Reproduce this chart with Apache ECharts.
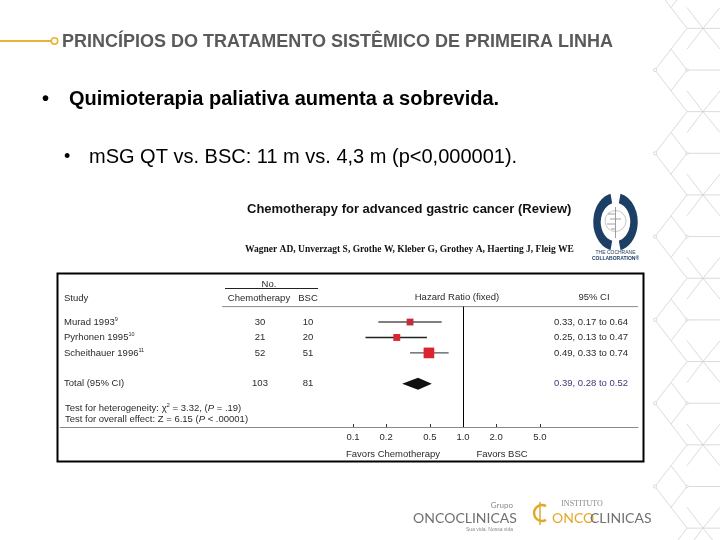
<!DOCTYPE html>
<html><head><meta charset="utf-8">
<script src="https://cdn.jsdelivr.net/npm/echarts@6/dist/echarts.min.js"></script>
<style>html,body{margin:0;padding:0;background:#fff}#c{width:720px;height:540px}</style>
</head><body><div id="c"></div>
<script>
// ---------- data ----------
const studies = ['Murad 1993', 'Pyrhonen 1995', 'Scheithauer 1996'];
const refs = ['9', '10', '11'];
const chemoN = [30, 21, 52];
const bscN = [10, 20, 51];
const hr = [0.33, 0.25, 0.49];
const ciLow = [0.17, 0.13, 0.33];
const ciHigh = [0.64, 0.47, 0.74];
const totalLabel = 'Total (95% CI)';
const totalChemo = [103];
const totalBsc = [81];
const totalHr = [0.39];
const totalLow = [0.28];
const totalHigh = [0.52];
const tickValues = [0.1, 0.2, 0.5, 1, 2, 5];

// ---------- layout ----------
const FONT = '"Liberation Sans", Arial, sans-serif';
const rowOf = i => i + 1;
const totalRow = studies.length + 2;
const yMax = 7.8;
const colStudy = 4, colChemo = 200, colBsc = 248, colCI = 494;
const sqColors = ['#c42d3a', '#d9262f', '#dc2430'];
const D2R = Math.PI / 180;
const TXT = '#2a2a2a';

const fmt = v => v.toFixed(2);
const ciText = (h, l, u) => fmt(h) + ', ' + fmt(l) + ' to ' + fmt(u);

const chart = echarts.init(document.getElementById('c'), null, {renderer: 'canvas'});

const labelBase = {fontFamily: FONT, fontSize: 9.5, color: TXT};

// hexagon decoration
const deco = [];
const P = 83.3;
const gray = '#d2d2d2';
function ln(x1, y1, x2, y2) {
  deco.push({type: 'line', silent: true, shape: {x1, y1, x2, y2}, style: {stroke: gray, lineWidth: 0.8}});
}
for (let k = -1; k < 8; k++) {
  const y0 = 70 + k * P;
  ln(655, y0, 687, y0 - P / 2);
  ln(655, y0, 687, y0 + P / 2);
  ln(671, y0 - P / 4, 687, y0);
  ln(671, y0 + P / 4, 687, y0);
  ln(687, y0, 720, y0);
  ln(687, y0 - P / 2, 720, y0 - P / 2);
  ln(687, y0 + P / 4, 703, y0 + P / 2);
  ln(687, y0 - P / 4, 703, y0 - P / 2);
  ln(703, y0 - P / 2, 720, y0 - P / 4);
  ln(703, y0 + P / 2, 720, y0 + P / 4);
  deco.push({type: 'circle', silent: true, shape: {cx: 655, cy: y0, r: 1.6}, style: {fill: '#fff', stroke: gray, lineWidth: 0.8}});
  deco.push({type: 'circle', silent: true, shape: {cx: 687, cy: y0, r: 1.3}, style: {fill: '#fff', stroke: gray, lineWidth: 0.8}});
}

function txt(text, x, y, font, fill, align, extra) {
  return {type: 'text', silent: true, style: Object.assign({text, x, y, font, fill: fill || TXT, textAlign: align || 'left', textVerticalAlign: 'middle'}, extra || {})};
}
function ellArc(cx, cy, rx, ry, a0, a1, color, w) {
  return {type: 'arc', silent: true, x: cx, y: cy, scaleX: 1, scaleY: ry / rx,
    shape: {cx: 0, cy: 0, r: rx, startAngle: a0 * D2R, endAngle: a1 * D2R, clockwise: true},
    style: {stroke: color, lineWidth: w, fill: 'none', strokeNoScale: true}};
}

const graphics = deco.concat([
  // title bar
  {type: 'line', shape: {x1: 0, y1: 41, x2: 51, y2: 41}, style: {stroke: '#e8b33a', lineWidth: 2}},
  {type: 'circle', shape: {cx: 54.5, cy: 41, r: 3.2}, style: {fill: '#fff', stroke: '#e8b33a', lineWidth: 1.6}},
  txt('PRINCÍPIOS DO TRATAMENTO SISTÊMICO DE PRIMEIRA LINHA', 62, 42, 'bold 18px ' + FONT, '#5a5a5a'),
  txt('•', 42, 99, 'bold 20px ' + FONT, '#000'),
  txt('Quimioterapia paliativa aumenta a sobrevida.', 69, 99, 'bold 20px ' + FONT, '#000'),
  txt('•', 64, 157, '18px ' + FONT, '#000'),
  txt('mSG QT vs. BSC: 11 m vs. 4,3 m (p<0,000001).', 89, 157, '20px ' + FONT, '#000'),
  // review header
  txt('Chemotherapy for advanced gastric cancer (Review)', 247, 209, 'bold 13px ' + FONT, '#111'),
  txt('Wagner AD, Unverzagt S, Grothe W, Kleber G, Grothey A, Haerting J, Fleig WE', 245, 250, 'bold 9.5px "Liberation Serif", serif', '#111'),
  // cochrane logo
  ellArc(615.5, 222, 18.5, 24, 103, 257, '#1d3f66', 7.5),
  ellArc(615.5, 222, 18.5, 24, -77, 77, '#1d3f66', 7.5),
  {type: 'circle', shape: {cx: 615.5, cy: 221, r: 10.5}, style: {fill: 'none', stroke: '#b8b8b8', lineWidth: 0.8}},
  {type: 'line', shape: {x1: 615.5, y1: 207, x2: 615.5, y2: 238}, style: {stroke: '#888', lineWidth: 0.8}},
  {type: 'line', shape: {x1: 608, y1: 214, x2: 615, y2: 214}, style: {stroke: '#888', lineWidth: 0.8}},
  {type: 'line', shape: {x1: 610, y1: 219, x2: 621, y2: 219}, style: {stroke: '#888', lineWidth: 0.8}},
  {type: 'line', shape: {x1: 607, y1: 224, x2: 615, y2: 224}, style: {stroke: '#888', lineWidth: 0.8}},
  {type: 'line', shape: {x1: 611, y1: 229, x2: 615, y2: 229}, style: {stroke: '#888', lineWidth: 0.8}},
  txt('THE COCHRANE', 615.5, 253, '5px ' + FONT, '#1d3f66', 'center'),
  txt('COLLABORATION®', 615.5, 259, 'bold 5px ' + FONT, '#1d3f66', 'center'),
  // table box
  {type: 'rect', shape: {x: 57.5, y: 273.5, width: 586, height: 188}, style: {fill: 'none', stroke: '#000', lineWidth: 2}},
  {type: 'line', shape: {x1: 222, y1: 306.6, x2: 638, y2: 306.6}, style: {stroke: '#8a8a8a', lineWidth: 1}},
  {type: 'line', shape: {x1: 225, y1: 288.5, x2: 318, y2: 288.5}, style: {stroke: '#222', lineWidth: 1}},
  txt('No.', 269, 284, '9.5px ' + FONT, TXT, 'center'),
  txt('Study', 64, 298, '9.5px ' + FONT, TXT),
  txt('Chemotherapy', 259, 298, '9.5px ' + FONT, TXT, 'center'),
  txt('BSC', 308, 298, '9.5px ' + FONT, TXT, 'center'),
  txt('Hazard Ratio (fixed)', 457, 297, '9.5px ' + FONT, TXT, 'center'),
  txt('95% CI', 594, 297, '9.5px ' + FONT, TXT, 'center'),
  {type: 'text', silent: true, style: {text: 'Test for heterogeneity: χ{s|2} = 3.32, ({i|P} = .19)', x: 65, y: 408, font: '9.5px ' + FONT, fill: TXT, textVerticalAlign: 'middle',
    rich: {s: {fontSize: 6, verticalAlign: 'top', lineHeight: 11, fontFamily: FONT, fill: TXT}, i: {fontStyle: 'italic', fontSize: 9.5, fontFamily: FONT, fill: TXT}}}},
  {type: 'text', silent: true, style: {text: 'Test for overall effect: Z = 6.15 ({i|P} < .00001)', x: 65, y: 419.5, font: '9.5px ' + FONT, fill: TXT, textVerticalAlign: 'middle',
    rich: {i: {fontStyle: 'italic', fontSize: 9.5, fontFamily: FONT, fill: TXT}}}},
  txt('Favors Chemotherapy', 393, 454, '9.5px ' + FONT, TXT, 'center'),
  txt('Favors BSC', 502, 454, '9.5px ' + FONT, TXT, 'center'),
  // footer logos
  txt('Grupo', 513, 505, '8px Lato, ' + FONT, '#8a8a8a', 'right'),
  txt('ONCOCLINICAS', 465, 518, '14px Lato, ' + FONT, '#707070', 'center'),
  txt('Sua vida. Nossa vida', 513, 530, '5px ' + FONT, '#8a8a8a', 'right'),
  {type: 'arc', shape: {cx: 542, cy: 513, r: 8, startAngle: 60 * D2R, endAngle: 300 * D2R, clockwise: true}, style: {stroke: '#e2a82a', lineWidth: 2.5, fill: 'none'}},
  {type: 'line', shape: {x1: 540, y1: 502, x2: 540, y2: 525}, style: {stroke: '#e2a82a', lineWidth: 1.5}},
  txt('INSTITUTO', 582, 504, '8px "Liberation Serif", serif', '#8a8a8a', 'center'),
  txt('ONCO', 552, 518, '14px Lato, ' + FONT, '#e2a82a'),
  txt('CLINICAS', 590, 518, '14px Lato, ' + FONT, '#707070')
]);

const nameData = studies.map((s, i) => ({value: [colStudy, rowOf(i)], name: s + '{s|' + refs[i] + '}'}));
nameData.push({value: [colStudy, totalRow], name: totalLabel});
const chemoData = chemoN.map((n, i) => ({value: [colChemo, rowOf(i)], name: String(n)}));
chemoData.push({value: [colChemo, totalRow], name: String(totalChemo[0])});
const bscData = bscN.map((n, i) => ({value: [colBsc, rowOf(i)], name: String(n)}));
bscData.push({value: [colBsc, totalRow], name: String(totalBsc[0])});
const ciData = hr.map((h, i) => ({value: [colCI, rowOf(i)], name: ciText(h, ciLow[i], ciHigh[i])}));
ciData.push({value: [colCI, totalRow], name: ciText(totalHr[0], totalLow[0], totalHigh[0]), label: {color: '#3a3a78'}});

function textSeries(data, align) {
  return {
    type: 'scatter', xAxisIndex: 1, yAxisIndex: 1, symbolSize: 0, silent: true, data,
    itemStyle: {opacity: 1},
    label: Object.assign({show: true, position: align === 'left' ? 'right' : 'inside', distance: 0, align, verticalAlign: 'middle',
      formatter: p => p.name,
      rich: {s: {fontSize: 5.5, verticalAlign: 'top', lineHeight: 11, fontFamily: FONT, color: TXT}}}, labelBase)
  };
}

const option = {
  animation: false,
  backgroundColor: '#fff',
  graphic: graphics,
  grid: [
    {left: 353, top: 306.6, width: 220, height: 120.4},
    {left: 60, top: 306.6, width: 578, height: 120.4}
  ],
  xAxis: [
    {gridIndex: 0, type: 'log', logBase: 10, min: 0.1, max: 10,
      axisLine: {show: false, onZero: false},
      axisTick: {show: true, inside: true, length: 3, customValues: tickValues, lineStyle: {color: '#333'}},
      axisLabel: Object.assign({customValues: tickValues, formatter: v => Number(v).toFixed(1), margin: 5}, labelBase),
      splitLine: {show: false}, minorTick: {show: false}},
    {gridIndex: 1, type: 'value', min: 0, max: 578,
      axisLine: {show: true, onZero: false, lineStyle: {color: '#8a8a8a', width: 1}},
      axisTick: {show: false}, axisLabel: {show: false}, splitLine: {show: false}}
  ],
  yAxis: [
    {gridIndex: 0, type: 'value', min: 0, max: yMax, inverse: true, show: false},
    {gridIndex: 1, type: 'value', min: 0, max: yMax, inverse: true, show: false}
  ],
  series: [
    {
      type: 'custom', xAxisIndex: 0, yAxisIndex: 0, silent: true,
      data: hr.map((h, i) => [ciLow[i], ciHigh[i], rowOf(i)]),
      renderItem: (params, api) => {
        const a = api.coord([api.value(0), api.value(2)]);
        const b = api.coord([api.value(1), api.value(2)]);
        return {type: 'line', shape: {x1: a[0], y1: a[1], x2: b[0], y2: b[1]}, style: {stroke: params.dataIndex === 1 ? '#222' : '#555', lineWidth: 1.4}};
      },
      markLine: {silent: true, symbol: 'none', label: {show: false}, lineStyle: {color: '#000', width: 1, type: 'solid'}, data: [{xAxis: 1}]}
    },
    {
      type: 'scatter', xAxisIndex: 0, yAxisIndex: 0, symbol: 'rect', silent: true,
      data: hr.map((h, i) => ({value: [h, rowOf(i)], symbolSize: Math.sqrt(chemoN[i] + bscN[i]) + 0.5, itemStyle: {color: sqColors[i], opacity: 1}}))
    },
    {
      type: 'custom', xAxisIndex: 0, yAxisIndex: 0, silent: true,
      data: totalHr.map((h, i) => [totalLow[i], h, totalHigh[i], totalRow]),
      renderItem: (params, api) => {
        const r = api.value(3);
        const l = api.coord([api.value(0), r]);
        const m = api.coord([api.value(1), r]);
        const u = api.coord([api.value(2), r]);
        const hh = 6;
        return {type: 'polygon', shape: {points: [[l[0], l[1]], [m[0], m[1] - hh], [u[0], u[1]], [m[0], m[1] + hh]]}, style: {fill: '#111'}};
      }
    },
    textSeries(nameData, 'left'),
    textSeries(chemoData, 'center'),
    textSeries(bscData, 'center'),
    textSeries(ciData, 'left')
  ]
};
chart.setOption(option);
</script>
</body></html>
